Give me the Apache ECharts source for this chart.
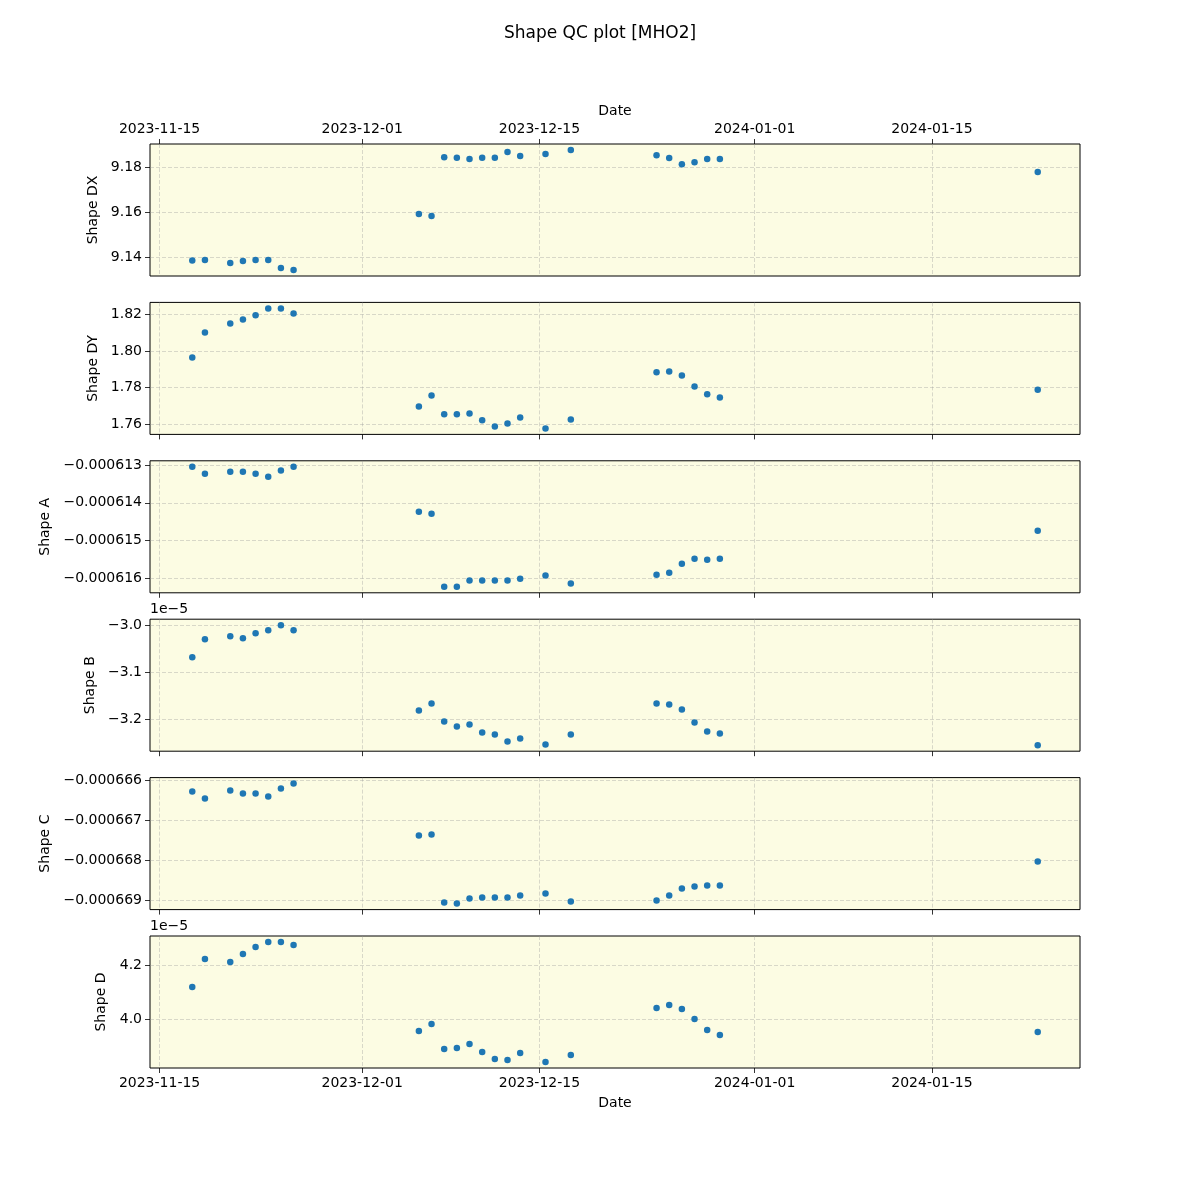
<!DOCTYPE html>
<html><head><meta charset="utf-8">
<script src="https://cdn.jsdelivr.net/npm/echarts@6/dist/echarts.min.js"></script>
<style>html,body{margin:0;padding:0;background:#fff}#c{width:1200px;height:1200px}</style>
</head><body><div id="c"></div>
<script>
// ---------- data ----------
const dates = [
  '2023-11-17T14:00','2023-11-18T14:00','2023-11-20T14:00','2023-11-21T14:00',
  '2023-11-22T14:00','2023-11-23T14:00','2023-11-24T14:00','2023-11-25T14:00',
  '2023-12-05T11:30','2023-12-06T11:30','2023-12-07T11:30','2023-12-08T11:30',
  '2023-12-09T11:30','2023-12-10T11:30','2023-12-11T11:30','2023-12-12T11:30',
  '2023-12-13T11:30','2023-12-15T11:30','2023-12-17T11:30',
  '2023-12-24T06:00','2023-12-25T06:00','2023-12-26T06:00','2023-12-27T06:00',
  '2023-12-28T06:00','2023-12-29T06:00','2024-01-23T08:30'
];
const shapeDX = [9.1384, 9.1387, 9.1373, 9.1382, 9.1387, 9.1387, 9.1351, 9.1342, 9.1591, 9.1582,
  9.1844, 9.1841, 9.1836, 9.1841, 9.1841, 9.1867, 9.1849, 9.1858, 9.1876,
  9.1853, 9.1840, 9.1813, 9.1822, 9.1836, 9.1836, 9.1778];
const shapeDY = [1.7965, 1.8102, 1.8151, 1.8173, 1.8195, 1.8233, 1.8233, 1.8205, 1.7698, 1.7758,
  1.7655, 1.7655, 1.7660, 1.7622, 1.7589, 1.7605, 1.7638, 1.7578, 1.7627,
  1.7884, 1.7889, 1.7867, 1.7807, 1.7764, 1.7747, 1.7789];
const shapeA = [-0.000613044, -0.000613230, -0.000613177, -0.000613177, -0.000613230, -0.000613310,
  -0.000613142, -0.000613044, -0.000614239, -0.000614292, -0.000616230, -0.000616230,
  -0.000616062, -0.000616062, -0.000616062, -0.000616062, -0.000616018, -0.000615929,
  -0.000616142, -0.000615912, -0.000615858, -0.000615619, -0.000615487, -0.000615513,
  -0.000615487, -0.000614743];
const shapeB = [-3.0688e-5, -3.0305e-5, -3.0241e-5, -3.0284e-5, -3.0177e-5, -3.0113e-5, -3.0007e-5,
  -3.0113e-5, -3.1816e-5, -3.1667e-5, -3.2050e-5, -3.2156e-5, -3.2113e-5, -3.2284e-5,
  -3.2326e-5, -3.2475e-5, -3.2411e-5, -3.2539e-5, -3.2326e-5, -3.1667e-5, -3.1688e-5,
  -3.1794e-5, -3.2071e-5, -3.2262e-5, -3.2305e-5, -3.2553e-5];
const shapeC = [-0.000666283, -0.000666457, -0.000666258, -0.000666333, -0.000666333, -0.000666407,
  -0.000666208, -0.000666083, -0.000667380, -0.000667355, -0.000669051, -0.000669076,
  -0.000668951, -0.000668926, -0.000668926, -0.000668926, -0.000668876, -0.000668826,
  -0.000669026, -0.000669001, -0.000668876, -0.000668702, -0.000668652, -0.000668627,
  -0.000668627, -0.000668025];
const shapeD = [4.1185e-5, 4.2222e-5, 4.2111e-5, 4.2407e-5, 4.2667e-5, 4.2852e-5, 4.2852e-5,
  4.2741e-5, 3.9556e-5, 3.9815e-5, 3.8889e-5, 3.8926e-5, 3.9074e-5, 3.8778e-5, 3.8519e-5,
  3.8481e-5, 3.8741e-5, 3.8407e-5, 3.8667e-5, 4.0407e-5, 4.0519e-5, 4.0370e-5, 4.0000e-5,
  3.9593e-5, 3.9407e-5, 3.9519e-5];

const xTickDates = ['2023-11-15','2023-12-01','2023-12-15','2024-01-01','2024-01-15'];
const ticksDX = [9.14, 9.16, 9.18];
const ticksDY = [1.76, 1.78, 1.80, 1.82];
const ticksA = [-0.000616, -0.000615, -0.000614, -0.000613];
const ticksB = [-3.2e-5, -3.1e-5, -3.0e-5];
const ticksC = [-0.000669, -0.000668, -0.000667, -0.000666];
const ticksD = [4.0e-5, 4.2e-5];

const titleText = 'Shape QC plot [MHO2]';
const panelNames = ['Shape DX', 'Shape DY', 'Shape A', 'Shape B', 'Shape C', 'Shape D'];

// ---------- helpers ----------
const FONT = 'DejaVu Sans';
const MINUS = '\u2212';
const ts = s => new Date(s).getTime();
const xs = dates.map(ts);
const xTicks = xTickDates.map(d => ts(d + 'T00:00'));
const xMinD = Math.min(...xs), xMaxD = Math.max(...xs);
const xPad = 0.05 * (xMaxD - xMinD);
const pad2 = n => (n < 10 ? '0' : '') + n;
const fmtDate = v => { const d = new Date(v); return d.getFullYear() + '-' + pad2(d.getMonth() + 1) + '-' + pad2(d.getDate()); };
const fixM = s => s.replace('-', MINUS);

const panels = [
  { vals: shapeDX, ticks: ticksDX, fmt: v => fixM(v.toFixed(2)), gap: 39 },
  { vals: shapeDY, ticks: ticksDY, fmt: v => fixM(v.toFixed(2)), gap: 39 },
  { vals: shapeA, ticks: ticksA, fmt: v => fixM(v.toFixed(6)), gap: 86 },
  { vals: shapeB, ticks: ticksB, fmt: v => fixM((v / 1e-5).toFixed(1)), gap: 42, offset: '1e' + MINUS + '5' },
  { vals: shapeC, ticks: ticksC, fmt: v => fixM(v.toFixed(6)), gap: 86 },
  { vals: shapeD, ticks: ticksD, fmt: v => fixM((v / 1e-5).toFixed(1)), gap: 32, offset: '1e' + MINUS + '5' }
];

const LEFT = 150, WIDTH = 930, H = 132, STEP = 158.4, TOP0 = 144;
const grids = [], xAxes = [], yAxes = [], series = [], graphics = [];
const gridLine = { show: true, lineStyle: { color: 'rgba(150,150,150,0.45)', width: 0.8, type: [4, 2] } };
const tickStyle = { show: true, inside: false, length: 5, lineStyle: { color: '#000', width: 0.8 } };

panels.forEach((p, i) => {
  const top = TOP0 + i * STEP;
  grids.push({ left: LEFT, top: top, width: WIDTH, height: H, show: true,
    backgroundColor: '#fcfce3', borderColor: '#000', borderWidth: 1, containLabel: false });
  const isTop = i === 0, isBottom = i === panels.length - 1;
  xAxes.push({
    type: 'value', gridIndex: i, position: isTop ? 'top' : 'bottom',
    min: xMinD - xPad, max: xMaxD + xPad,
    name: (isTop || isBottom) ? 'Date' : '', nameLocation: 'middle', nameGap: isTop ? 26 : 28,
    nameTextStyle: { fontFamily: FONT, fontSize: 14, color: '#000' },
    axisLine: { show: false },
    axisTick: Object.assign({ customValues: xTicks }, tickStyle),
    axisLabel: { show: isTop || isBottom, customValues: xTicks, formatter: fmtDate,
      fontFamily: FONT, fontSize: 14, color: '#000', margin: 8, hideOverlap: false },
    splitLine: gridLine
  });
  const lo = Math.min(...p.vals), hi = Math.max(...p.vals), r = hi - lo;
  yAxes.push({
    type: 'value', gridIndex: i, min: lo - 0.05 * r, max: hi + 0.05 * r,
    name: panelNames[i], nameLocation: 'middle', nameGap: p.gap,
    nameTextStyle: { fontFamily: FONT, fontSize: 14, color: '#000' },
    axisLine: { show: false },
    axisTick: Object.assign({ customValues: p.ticks }, tickStyle),
    axisLabel: { customValues: p.ticks, formatter: p.fmt, fontFamily: FONT, fontSize: 14,
      color: '#000', margin: 8 },
    splitLine: gridLine
  });
  series.push({
    type: 'scatter', xAxisIndex: i, yAxisIndex: i, symbolSize: 6.5,
    itemStyle: { color: '#1f77b4', opacity: 1 }, silent: true, animation: false,
    data: xs.map((x, k) => [x, p.vals[k]])
  });
  if (p.offset) {
    graphics.push({ type: 'text', left: LEFT, top: top - 17,
      style: { text: p.offset, font: '14px "' + FONT + '"', fill: '#000' } });
  }
});

const chart = echarts.init(document.getElementById('c'), null, { renderer: 'canvas' });
chart.setOption({
  animation: false,
  backgroundColor: '#fff',
  title: { text: titleText, left: 'center', top: 20,
    textStyle: { fontFamily: FONT, fontSize: 17, fontWeight: 'normal', color: '#000' } },
  grid: grids, xAxis: xAxes, yAxis: yAxes, series: series, graphic: graphics
});
</script></body></html>
